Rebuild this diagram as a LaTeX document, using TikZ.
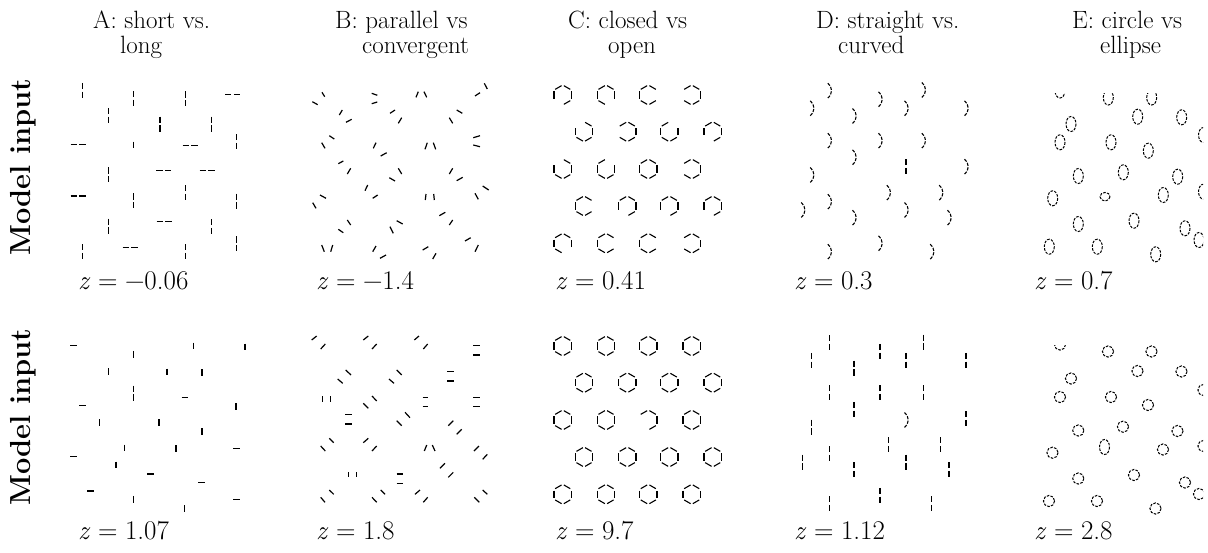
\documentclass[tikz,border=0pt]{standalone}
\usepackage{fontspec}
\newcommand{\zl}[1]{\textit{z}\hspace{0.28em}=\hspace{0.28em}#1}
\begin{document}
\begin{tikzpicture}[x=1pt,y=-1pt,
  title/.style={anchor=north west, inner sep=0pt, align=left, font=\fontsize{25}{24.5}\selectfont},
  zlab/.style={anchor=base west, inner sep=0pt, font=\fontsize{27}{29}\selectfont},
  rowlab/.style={rotate=90, inner sep=0pt, font=\fontsize{29}{31}\selectfont\bfseries},
  longseg/.style={line width=1.15pt, dash pattern=on 6.25pt off 2.5pt},
  shortseg/.style={line width=1.15pt},
  oseg/.style={line width=1.2pt},
  hexside/.style={line width=1.1pt, shorten <=1.3pt, shorten >=1.3pt},
  curv/.style={line width=1.1pt, dash pattern=on 3.2pt off 1.4pt},
  ell/.style={line width=1pt, dash pattern=on 2.6pt off 1.3pt}]
\useasboundingbox (0,0) rectangle (1208,552);
% ---------- titles ----------
\node[title] (tA) at (93,11) {A: short vs.\\\hspace*{27pt}long};
\node[title] (tB) at (335,11) {B: parallel vs\\\hspace*{27pt}convergent};
\node[title] (tC) at (568,11) {C: closed vs\\\hspace*{40pt}open};
\node[title] (tD) at (816,11) {D: straight vs.\\\hspace*{22pt}curved};
\node[title] (tE) at (1072,11) {E: circle vs\\\hspace*{28pt}ellipse};
% ---------- row labels ----------
\node[rowlab] (r1) at (23,167) {Model input};
\node[rowlab] (r2) at (23,417) {Model input};
% ---------- z labels ----------
\node[zlab] (zA1) at (78,289) {\zl{−0.06}};
\node[zlab] (zB1) at (316,289) {\zl{−1.4}};
\node[zlab] (zC1) at (555,289) {\zl{0.41}};
\node[zlab] (zD1) at (794,289) {\zl{0.3}};
\node[zlab] (zE1) at (1034,289) {\zl{0.7}};
\node[zlab] (zA2) at (78,539) {\zl{1.07}};
\node[zlab] (zB2) at (316,539) {\zl{1.8}};
\node[zlab] (zC2) at (555,539) {\zl{9.7}};
\node[zlab] (zD2) at (794,539) {\zl{1.12}};
\node[zlab] (zE2) at (1034,539) {\zl{2.8}};
% ---------- panel A ----------
\foreach \x/\y in {82.3/90.3,133.7/98.3,185.3/98.8,108.3/115.3,160/124.2,211.7/124.2,236.7/141.5,108.3/174.8,133.7/200.8,185.3/192.5,236.7/201.2,108.3/226.2,211.7/226.5,82.3/251.7,185.3/251.7,236.7/243.8,133.3/393}
  \draw[longseg] (\x,\y-7.5) -- (\x,\y+7.5);
\foreach \x/\y in {232.5/94.3,78.2/144.7,190/145.7,163.8/170.7,207.2/170.7,78.2/196,164.2/221.7,130.2/247.3}
  \draw[longseg] (\x-7.5,\y) -- (\x+7.5,\y);
\foreach \x/\y in {133.7/145,133.3/354.2,193.7/346,245/347,108.3/371.7,167/372,202/372.3,236/406.3,99.3/422.5,159/422.5,202/431.7,124.3/448,176/448.3,116/465,133.3/499.2,184.3/508.3}
  \draw[shortseg] (\x,\y-3.3) -- (\x,\y+3.3);
\foreach \x/\y in {73.7/345.7,185/397.3,82.7/405.7,236.3/448.3,73.7/456.7,150.7/474,201.7/482.7,90.3/491,236.3/499.7}
  \draw[shortseg] (\x-3.3,\y) -- (\x+3.3,\y);
% ---------- panel B ----------
\foreach \a/\b/\c/\d in {312.3/101.7/317.7/104.7,322/92.3/324.7/96.7,371.7/93.3/377.3/95.3,371.7/103.7/377.3/102,416/97.3/418.3/91.7,424/91.7/426.7/97.3,475/96/480/92.7,484.3/83.3/487.3/89,
339.3/115/342.3/110,346/122.3/351.7/119.3,390/113.3/395/110,398.3/123.3/401.7/117.7,449.3/117.7/452.7/123.3,456.7/110/462.3/113.3,
321.7/142.7/325/148.3,329.3/135.7/334.3/139,373.3/148.3/376/142.7,380.7/156/386.7/152.7,425/149.3/427.3/142.7,433.3/142.7/435.7/149.3,473.3/137.7/480/135.7,473.3/145/480/146.7,
338.3/163.7/343.3/161,347.3/174/350.7/168.3,389.3/177.7/395/181,398.3/168.3/401.7/174,449.3/174/452.7/168.3,456.7/180.7/462.7/177.3,
365/190.7/367.7/185,372.7/198.3/377.7/195,425.3/200/426/194,433.7/194/434.3/200,475/193.3/478.3/199.3,482.7/186/488.7/190,320/195/326/198.3,312.7/202.7/316/208.3,
338.3/229.3/343.3/232.7,347.3/220/350.7/225,390/226.7/393.3/233.3,396.7/220.7/402.7/224,439.3/215.7/445.3/212.3,449.3/225/452.7/220,
321.7/245/324.3/251.7,330.7/251.7/332.7/245,372.7/251.7/376/246,380/258.3/386/255,422.7/250/428.3/246.7,432.7/259/436/253.3,465/241/470.7/237.7,475/251.7/478.3/245}
  \draw[oseg] (\a,\b) -- (\c,\d);
\foreach \a/\b/\c/\d in {311.7/340/316.7/336,320.7/349/325.3/344,363.3/340/368.3/336,372/349/376.7/344,414.3/340/419/336,423.3/349/427.7/344,473.3/345.7/480/345.7,473.3/355/480/355,
337.7/379/342.7/383.3,345.7/370/351/375,389/379/394/383.3,396.7/370/401.7/375,447.3/371.7/454/371.7,447.3/381/454/381,
322.3/396/322.3/401.7,330.7/396/330.7/401.7,363.3/403.3/368.3/408.3,372/396/376.7/401,422.7/397.3/428.3/397.3,422.7/406.7/428.3/406.7,473.3/397.3/480/397.3,473.3/406.7/480/406.7,
345/414.3/351.7/414.3,345/424/351.7/424,396.7/420.7/401.7/425.7,405/412.3/410/417.7,448.3/425.7/453.3/420.7,456.7/434.3/461.7/429.3,
320.7/446/325.3/451,329.3/438.3/333.7/442.7,363.3/442.7/368.3/438.3,372/451/376.7/446,424.3/451/426.7/445,432.3/445/435/451,474/451/479/446,482.7/459.3/487.3/454.3,
348.3/472.3/348.3/477.3,356.7/472.3/356.7/477.3,396.7/474/403.3/474,396.7/483.3/403.3/483.3,440/468.3/445/463.3,448.3/477.3/453.3/472.3,
320.7/497.3/325/502.3,329.3/490/333.7/494.3,372/497.3/376.7/502.3,380.7/490/385/494.3,415/494.3/420/490,423.3/502.3/427.7/497.3,474.3/497.3/479.3/502.3,482.7/490/487.3/494.3}
  \draw[oseg] (\a,\b) -- (\c,\d);
% ---------- panel C ----------
\foreach \x/\y/\sides in {562.7/95/{1,2,3,5,6},606/95/{1,2,3,4,6},648.3/95/{1,2,3,4,5},691.7/95/{1,2,4,5,6},
584/131.7/{1,3,4,5,6},627.3/131.7/{1,2,4,5,6},669.3/131.7/{2,3,4,5,6},712.7/131.7/{1,2,3,5,6},
562.7/169/{1,3,4,5,6},606/169/{2,3,4,5,6},648.3/169/{1,2,3,4,5,6},691.7/169/{1,2,4,5,6},
584/206/{1,2,3,4,5},627.3/206/{1,2,3,5,6},669.3/206/{1,2,3,5,6},712.7/206/{1,2,3,5,6},
562.7/243.3/{1,2,3,4,6},606/243.3/{1,2,3,4,5},648.3/243.3/{1,2,3,4,5},691.7/243.3/{1,2,4,5,6},
562.7/346/{1,2,3,4,5,6},606/346/{1,2,3,4,5,6},648.3/346/{1,2,3,4,5,6},691.7/346/{1,2,3,4,5,6},
584/382.7/{1,2,3,4,5,6},627.3/382.7/{1,2,3,4,5,6},669.3/382.7/{1,2,3,4,5,6},712.7/382.7/{1,2,3,4,5,6},
562.7/420/{1,2,3,4,5,6},606/420/{1,2,3,4,5,6},648.3/420/{1,2,5,6},691.7/420/{1,2,3,4,5,6},
584/457/{1,2,3,4,5,6},627.3/457/{1,2,3,4,5,6},669.3/457/{1,2,3,4,5,6},712.7/457/{1,2,3,4,5,6},
562.7/494.3/{1,2,3,4,5,6},606/494.3/{1,2,3,4,5,6},648.3/494.3/{1,2,3,4,5,6},691.7/494.3/{1,2,3,4,5,6}}
{
  \begin{scope}[shift={(\x,\y)}]
    \foreach \s in \sides
      \draw[hexside] ({-30+60*\s}:10pt) -- ({30+60*\s}:10pt);
  \end{scope}
}
% ---------- panel D ----------
\foreach \x/\y in {829.3/90.7,811.7/108.3,854/116,880/99.3,906/108.3,923.3/90,966/108.3,829.3/140.7,880/140.7,923.3/140.7,854/157.3,966/166.7,811.7/175,888.3/192.7,940.7/192.7,829.3/201.7,802.7/210,906/210,854/217.7,949/217.7,880/243.3,829.3/251.7,931.7/251.7,906/420}
  \draw[curv] (\x-1.5,\y-7.5) .. controls (\x+3.5,\y-2.5) and (\x+3.5,\y+2.5) .. (\x-1.5,\y+7.5);
\foreach \x/\y in {906/166.7,829.3/342.7,811.7/360.3,854/368,880/351.3,906/360.3,923.3/342,966/360.3,829.3/392.7,880/392.7,923.3/392.7,854/409.3,966/418.7,811.7/427,888.3/444.7,940.7/444.7,829.3/453.7,802.7/462,906/462,854/469.7,949/469.7,880/495.3,829.3/503.7,931.7/503.7}
  \draw[longseg] (\x,\y-7.5) -- (\x,\y+7.5);
% ---------- panel E ----------
\begin{scope}
  \clip (1030,93) rectangle (1203,275);
  \foreach \x/\y in {1060/90.5,1108.3/97.5,1151.7/97.5,1071/124,1137.7/116.7,1181.7/117.3,1060/142.3,1111/142.3,1148.3/150.7,1203.5/135,1078.3/176,1123.3/172.3,1177.7/176.7,1052.7/198.3,1163.3/195,1203.5/191.7,1078.3/224,1134/220.7,1185/228.3,1199/240,1049.3/246.7,1097.3/246.7,1155.7/254.3}
    \draw[ell] (\x,\y) ellipse [x radius=5, y radius=7.5];
  \draw[ell] (1105,196.7) ellipse [x radius=5, y radius=4.3];
\end{scope}
\begin{scope}
  \clip (1030,345.5) rectangle (1203,530);
  \foreach \x/\y in {1060/344.5,1108/351.5,1151.5/351.5,1071/378.5,1137.5/371,1181.5/371.5,1060/397,1111/397,1148/405,1203.5/390,1078.3/430.5,1123/426.7,1177.5/431,1052.5/452.7,1163/449.5,1203.5/446,1078.3/478.5,1134/475,1185/482.5,1199/494,1049/501,1097/501,1155.5/508.5}
    \draw[ell] (\x,\y) circle [radius=5.6];
  \draw[ell] (1104.5,447) ellipse [x radius=5, y radius=7.5];
\end{scope}
\end{tikzpicture}
\end{document}
